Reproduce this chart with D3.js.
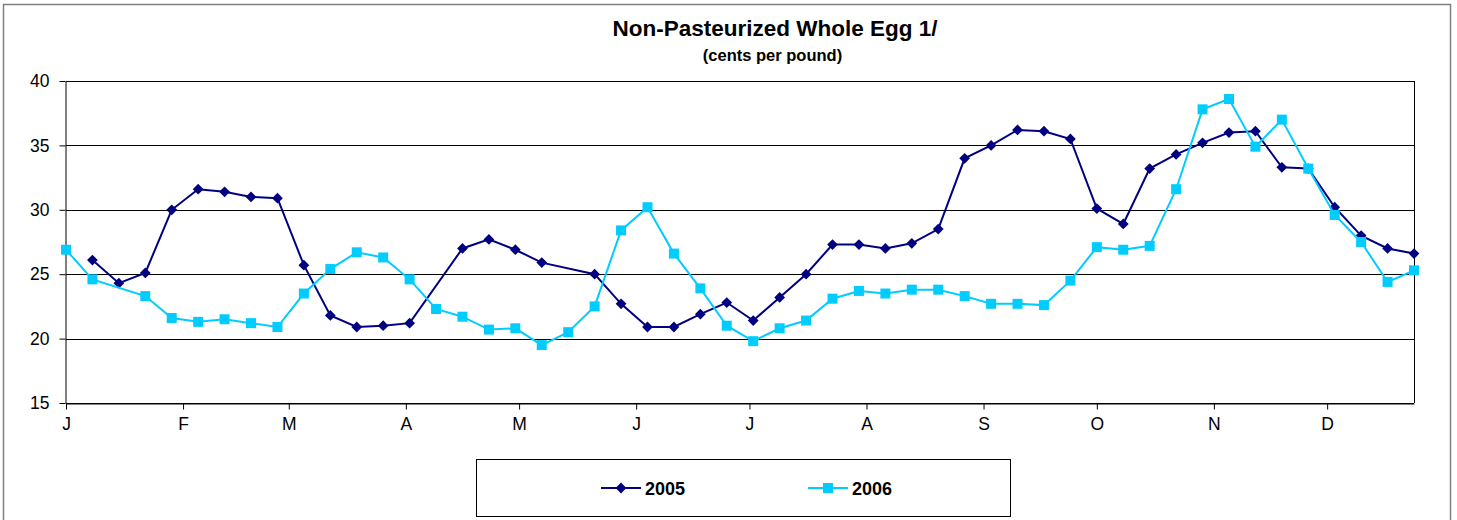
<!DOCTYPE html>
<html lang="en">
<head>
  <meta charset="UTF-8">
  <title>Non-Pasteurized Whole Egg</title>
  <style>
    body { margin: 0; background: #fff; }
    svg { display: block; font-family: "Liberation Sans", Arial, sans-serif; }
  </style>
</head>
<body>
  <svg width="1457" height="520"></svg>
  <script src="https://d3js.org/d3.v7.min.js"></script>
  <script>

  // weekly observations, plotted on a common month/day axis
  var weeks = [
    '01-01','01-08','01-15','01-22','01-29','02-05','02-12','02-19','02-26',
    '03-05','03-12','03-19','03-26','04-02','04-09','04-16','04-23','04-30',
    '05-07','05-14','05-21','05-28','06-04','06-11','06-18','06-25',
    '07-02','07-09','07-16','07-23','07-30','08-06','08-13','08-20','08-27',
    '09-03','09-10','09-17','09-24','10-01','10-08','10-15','10-22','10-29',
    '11-05','11-12','11-19','11-26','12-03','12-10','12-17','12-24'
  ];

  var y2005 = [
    null, 26.1, 24.3, 25.1, 30.0, 31.6, 31.4, 31.0, 30.9,
    25.7, 21.8, 20.9, 21.0, 21.2, null, 27.0, 27.7, 26.9,
    25.9, null, 25.0, 22.7, 20.9, 20.9, 21.9, 22.8,
    21.4, 23.2, 25.0, 27.3, 27.3, 27.0, 27.4, 28.5, 34.0,
    35.0, 36.2, 36.1, 35.5, 30.1, 28.9, 33.2, 34.3, 35.2,
    36.0, 36.1, 33.3, 33.2, 30.2, 28.0, 27.0, 26.6
  ];

  var y2006 = [
    26.9, 24.6, null, 23.3, 21.6, 21.3, 21.5, 21.2, 20.9,
    23.5, 25.4, 26.7, 26.3, 24.6, 22.3, 21.7, 20.7, 20.8,
    19.5, 20.5, 22.5, 28.4, 30.2, 26.6, 23.9, 21.0,
    19.8, 20.8, 21.4, 23.1, 23.7, 23.5, 23.8, 23.8, 23.3,
    22.7, 22.7, 22.6, 24.5, 27.1, 26.9, 27.2, 31.6, 37.8,
    38.6, 34.9, 37.0, 33.2, 29.6, 27.5, 24.4, 25.3
  ];

  var seriesNames = ['2005', '2006'];
  var yTicks = [15, 20, 25, 30, 35, 40];

  var svg = d3.select('svg');
  var parse = d3.utcParse('%Y-%m-%d');
  var dates = weeks.map(function(w) { return parse('2006-' + w); });

  // plot area (note: "top" is reserved on window)
  var plotLeft = 66, plotRight = 1414, plotTop = 81, plotBottom = 403;

  var x = d3.scaleUtc()
    .domain([dates[0], dates[dates.length - 1]])
    .range([plotLeft, plotRight]);

  var y = d3.scaleLinear().domain([15, 40]).range([plotBottom, plotTop]);

  // outer chart border
  svg.append('rect')
    .attr('x', 3.5).attr('y', 4.5)
    .attr('width', 1447).attr('height', 540)
    .attr('fill', 'none')
    .attr('stroke', '#808080')
    .attr('stroke-width', 1.5);

  // title
  svg.append('text')
    .attr('x', 775).attr('y', 36)
    .attr('text-anchor', 'middle')
    .attr('font-size', 22.5).attr('font-weight', 'bold')
    .text('Non-Pasteurized Whole Egg 1/');

  svg.append('text')
    .attr('x', 772.5).attr('y', 61)
    .attr('text-anchor', 'middle')
    .attr('font-size', 16.5).attr('font-weight', 'bold')
    .text('(cents per pound)');

  // gridlines + plot frame
  svg.append('g').selectAll('line')
    .data(yTicks)
    .enter()
    .append('line')
    .attr('x1', plotLeft).attr('x2', plotRight)
    .attr('y1', function(d) { return Math.round(y(d)) + 0.5; })
    .attr('y2', function(d) { return Math.round(y(d)) + 0.5; })
    .attr('stroke', '#000');

  svg.append('line')
    .attr('x1', plotRight + 0.5).attr('x2', plotRight + 0.5)
    .attr('y1', plotTop).attr('y2', plotBottom)
    .attr('stroke', '#000');

  // axes
  var months = d3.utcMonth.range(dates[0], dates[dates.length - 1]);

  var xAxis = svg.append('g')
    .attr('transform', 'translate(0,' + (Math.round(y(15)) + 0.5) + ')')
    .call(d3.axisBottom(x)
      .tickValues(months)
      .tickFormat(function(d) { return d3.utcFormat('%b')(d)[0]; })
      .tickSize(6)
      .tickSizeOuter(0)
      .tickPadding(8));

  var yAxis = svg.append('g')
    .attr('transform', 'translate(' + (plotLeft - 0.5) + ',0)')
    .call(d3.axisLeft(y)
      .tickValues(yTicks)
      .tickSize(6)
      .tickSizeOuter(0)
      .tickPadding(10));

  [xAxis, yAxis].forEach(function(a) {
    a.selectAll('text').attr('font-size', 17.5).attr('fill', '#000')
      .style('font-family', '"Liberation Sans", Arial, sans-serif');
    a.selectAll('line, path').attr('stroke', '#000');
  });

  // series
  var colors = { '2005': '#000080', '2006': '#00ccff' };
  var line = d3.line()
    .x(function(d) { return x(d.date); })
    .y(function(d) { return y(d.value); });

  var diamond = d3.symbol().type(d3.symbolSquare).size(58);
  var square = d3.symbol().type(d3.symbolSquare).size(100);

  function points(values) {
    return values.map(function(v, i) { return { date: dates[i], value: v }; })
      .filter(function(d) { return d.value !== null; });
  }

  var s2005 = points(y2005);
  var s2006 = points(y2006);

  svg.append('path')
    .datum(s2005)
    .attr('d', line)
    .attr('fill', 'none')
    .attr('stroke', colors['2005'])
    .attr('stroke-width', 2);

  svg.append('g').selectAll('path')
    .data(s2005)
    .enter()
    .append('path')
    .attr('d', diamond)
    .attr('transform', function(d) {
      return 'translate(' + x(d.date) + ',' + y(d.value) + ') rotate(45)';
    })
    .attr('fill', colors['2005']);

  svg.append('path')
    .datum(s2006)
    .attr('d', line)
    .attr('fill', 'none')
    .attr('stroke', colors['2006'])
    .attr('stroke-width', 2);

  svg.append('g').selectAll('path')
    .data(s2006)
    .enter()
    .append('path')
    .attr('d', square)
    .attr('transform', function(d) {
      return 'translate(' + x(d.date) + ',' + y(d.value) + ')';
    })
    .attr('fill', colors['2006']);

  // legend
  var legend = svg.append('g');
  legend.append('rect')
    .attr('x', 476.5).attr('y', 459.5)
    .attr('width', 534).attr('height', 57)
    .attr('fill', '#fff')
    .attr('stroke', '#000');

  var legendX = { '2005': 601, '2006': 808 };
  seriesNames.forEach(function(name) {
    var lx = legendX[name], ly = 488;
    legend.append('line')
      .attr('x1', lx).attr('x2', lx + 40)
      .attr('y1', ly).attr('y2', ly)
      .attr('stroke', colors[name])
      .attr('stroke-width', 2);
    legend.append('path')
      .attr('d', name === '2005' ? diamond : square)
      .attr('transform', 'translate(' + (lx + 20) + ',' + ly + ')' + (name === '2005' ? ' rotate(45)' : ''))
      .attr('fill', colors[name]);
    legend.append('text')
      .attr('x', lx + 44).attr('y', ly + 6.5)
      .attr('font-size', 18).attr('font-weight', 'bold')
      .text(name);
  });

  </script>
</body>
</html>
